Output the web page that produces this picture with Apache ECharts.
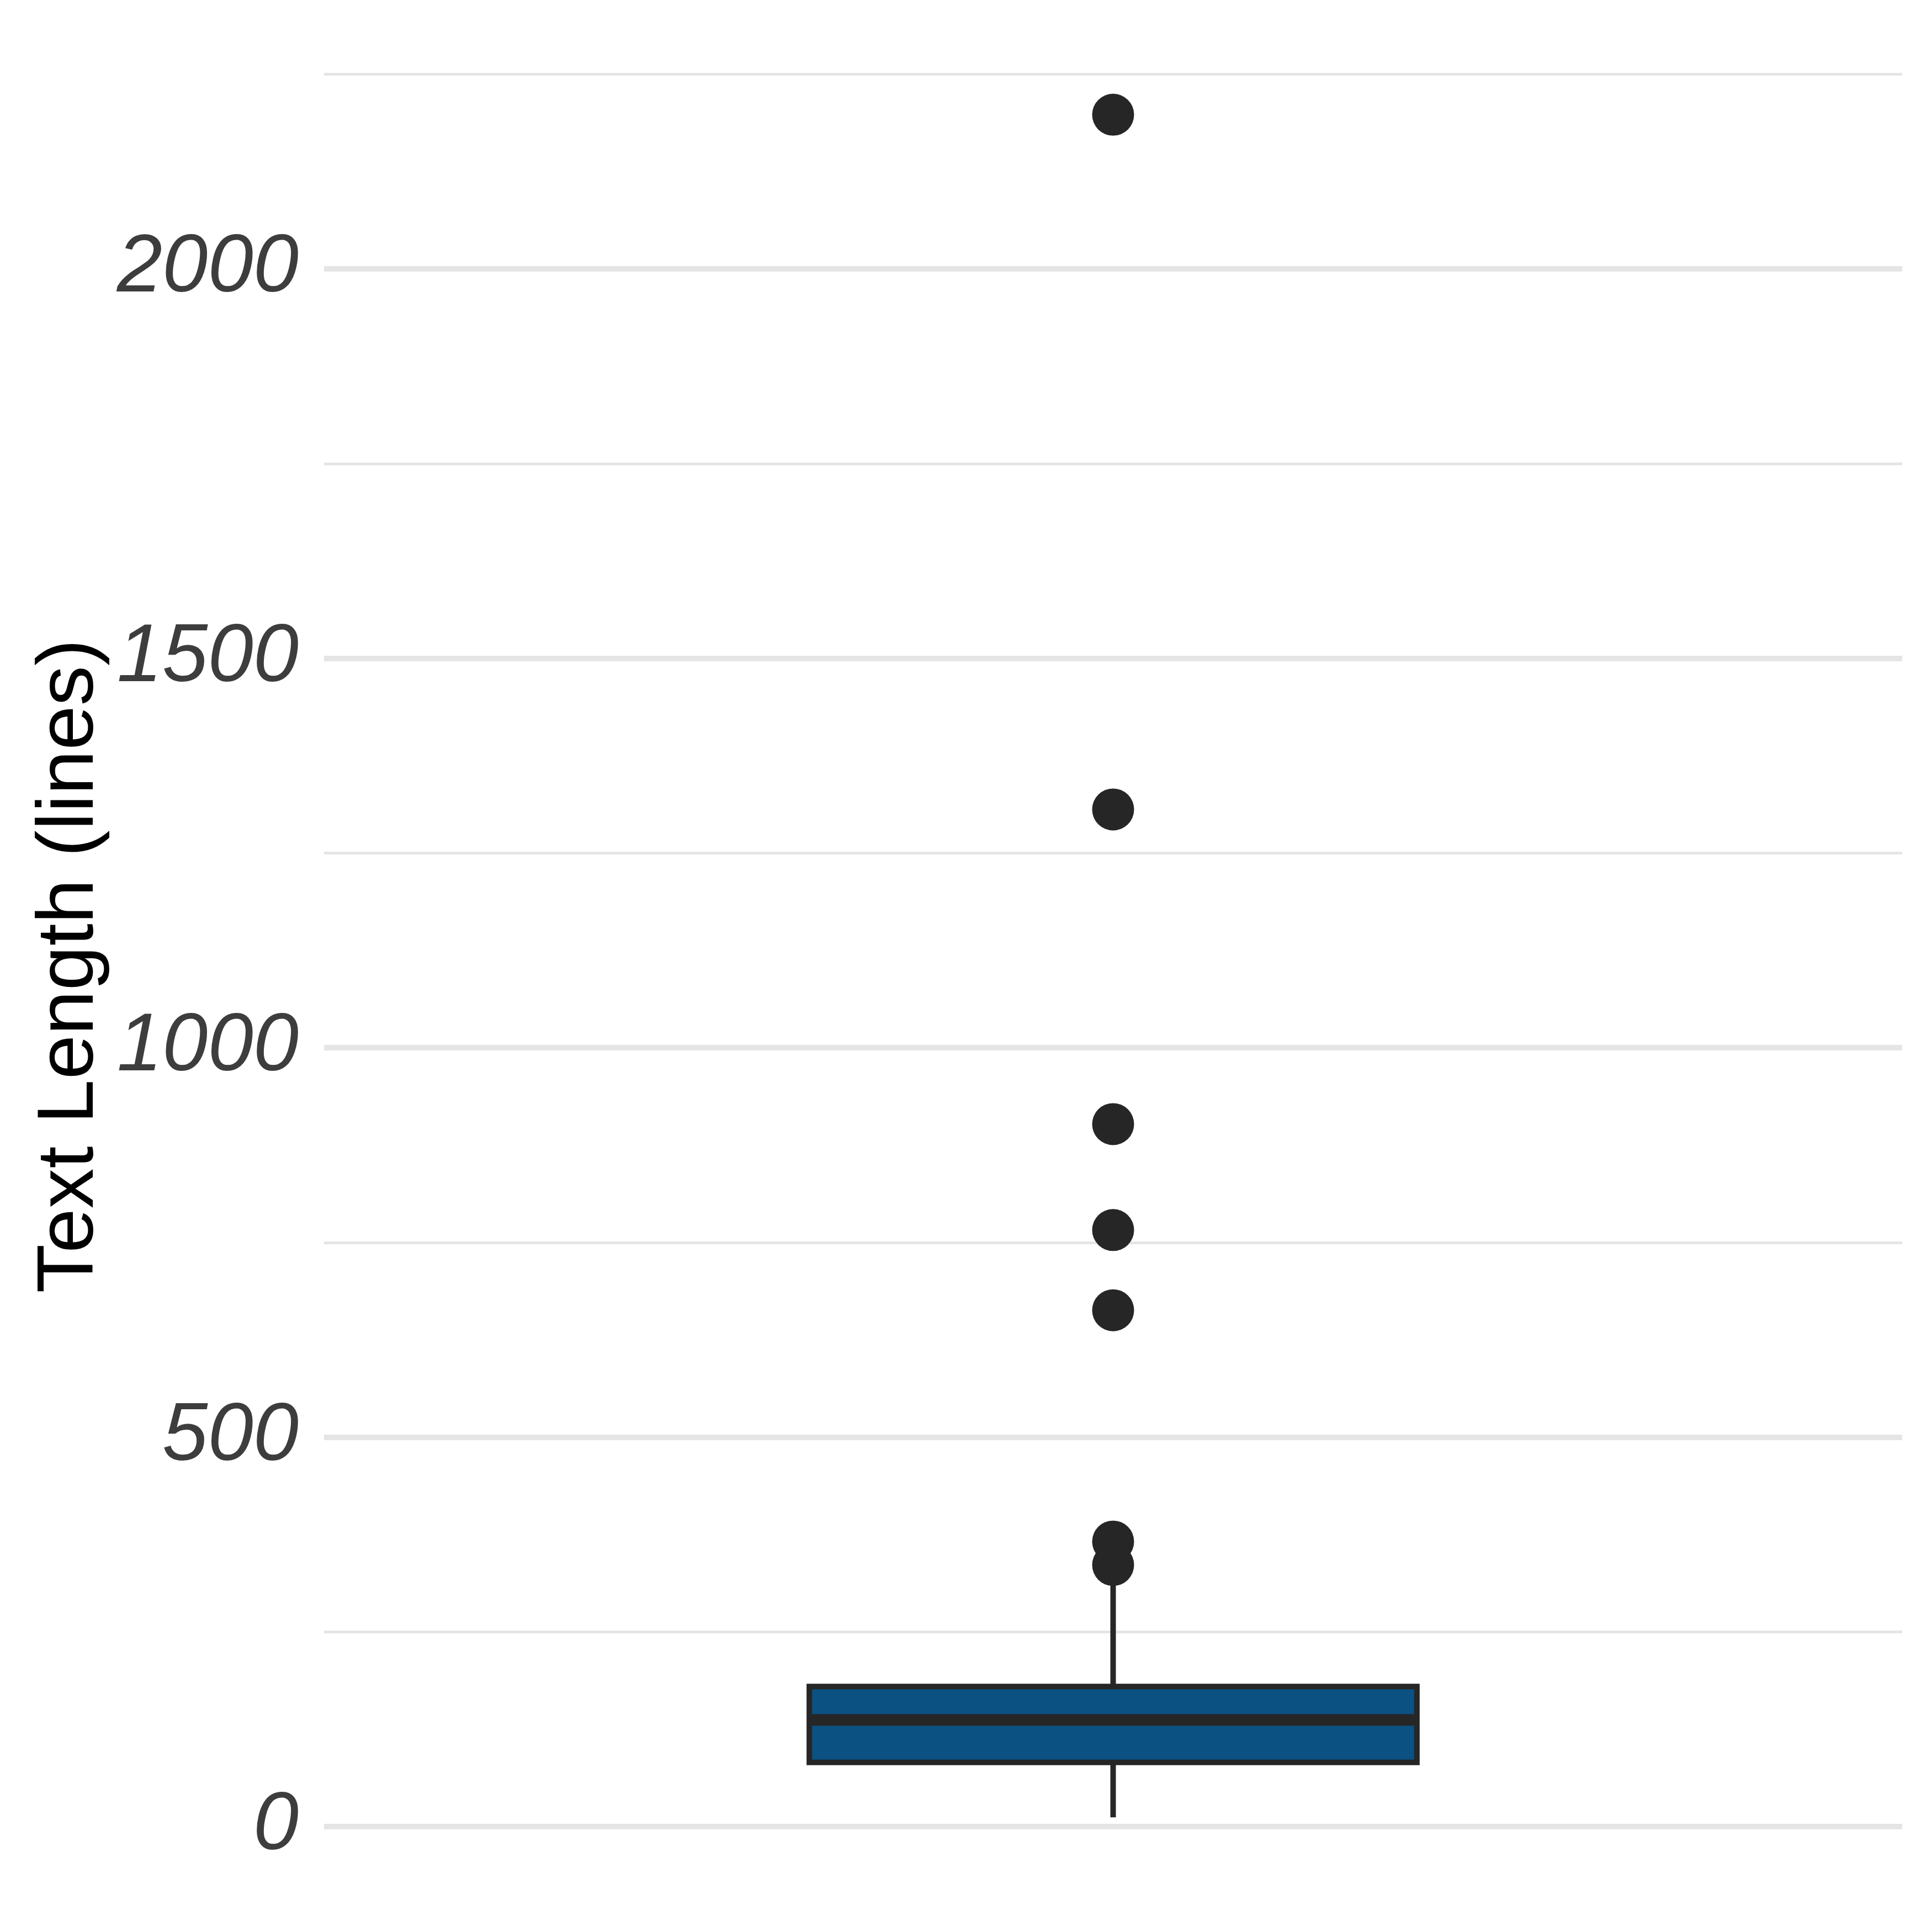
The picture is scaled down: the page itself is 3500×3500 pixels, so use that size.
<!DOCTYPE html>
<html><head><meta charset="utf-8">
<script src="https://cdn.jsdelivr.net/npm/echarts@6/dist/echarts.min.js"></script>
<style>html,body{margin:0;padding:0;background:#fff}#c{width:3500px;height:3500px}</style>
</head><body><div id="c"></div>
<script>
// ---- data ----
const categories = ['Text'];
const boxStats = [12, 82.5, 137, 180, 320];            // whisker low, Q1, median, Q3, whisker high
const outliers = [2198, 1306, 902, 766, 663, 366, 336];
const majorTicks = [0, 500, 1000, 1500, 2000];
const minorTicks = [250, 750, 1250, 1750, 2250];
const yLimits = [-97, 2307];
const yTitle = 'Text Length (lines)';

const EDGE = '#262626';
const FILL = '#0b5182';
const GRID = '#e5e5e5';

const chart = echarts.init(document.getElementById('c'), null, {renderer: 'canvas'});

const gridLines = majorTicks.map(v => ({yAxis: v, lineStyle: {width: 10}}))
  .concat(minorTicks.map(v => ({yAxis: v, lineStyle: {width: 5}})));

chart.setOption({
  animation: false,
  backgroundColor: '#ffffff',
  grid: {left: 587, right: 54, top: 54, bottom: 54, containLabel: false},
  xAxis: {
    type: 'category', data: categories, boundaryGap: true,
    axisLine: {show: false}, axisTick: {show: false}, axisLabel: {show: false}, splitLine: {show: false}
  },
  yAxis: {
    type: 'value', min: yLimits[0], max: yLimits[1],
    axisLine: {show: false}, axisTick: {show: false}, splitLine: {show: false},
    axisLabel: {
      customValues: majorTicks, fontStyle: 'italic', fontSize: 148,
      fontFamily: 'Liberation Sans, Arial, sans-serif', color: '#3d3d3d', margin: 46,
      formatter: function (v) { return String(v); }
    },
    name: yTitle, nameLocation: 'middle', nameRotate: 90, nameGap: 375,
    nameTextStyle: {fontSize: 145, fontFamily: 'Liberation Sans, Arial, sans-serif', color: '#000000'}
  },
  series: [
    {
      type: 'line', data: [], silent: true, z: 1,
      markLine: {
        silent: true, symbol: 'none', label: {show: false},
        lineStyle: {color: GRID, type: 'solid'},
        data: gridLines, animation: false
      }
    },
    {
      type: 'custom', z: 5,
      data: [[0].concat(boxStats)],
      encode: {x: 0, y: [1, 2, 3, 4, 5]},
      renderItem: function (params, api) {
        const xi = api.value(0);
        const band = api.size([1, 0])[0];
        const half = band * 0.385 / 2;
        const pLo = api.coord([xi, api.value(1)]);
        const pQ1 = api.coord([xi, api.value(2)]);
        const pMed = api.coord([xi, api.value(3)]);
        const pQ3 = api.coord([xi, api.value(4)]);
        const pHi = api.coord([xi, api.value(5)]);
        const cx = pQ1[0];
        return {
          type: 'group',
          children: [
            {type: 'line', shape: {x1: cx, y1: pLo[1], x2: cx, y2: pQ1[1]}, style: {stroke: EDGE, lineWidth: 10}},
            {type: 'line', shape: {x1: cx, y1: pQ3[1], x2: cx, y2: pHi[1]}, style: {stroke: EDGE, lineWidth: 10}},
            {type: 'rect', shape: {x: cx - half, y: pQ3[1], width: half * 2, height: pQ1[1] - pQ3[1]},
             style: {fill: FILL, stroke: EDGE, lineWidth: 10}},
            {type: 'line', shape: {x1: cx - half + 5, y1: pMed[1], x2: cx + half - 5, y2: pMed[1]},
             style: {stroke: EDGE, lineWidth: 21}}
          ]
        };
      }
    },
    {
      type: 'scatter', z: 10,
      data: outliers.map(v => [0, v]),
      symbol: 'circle', symbolSize: 76,
      itemStyle: {color: EDGE, opacity: 1}
    }
  ]
});
</script>
</body></html>
